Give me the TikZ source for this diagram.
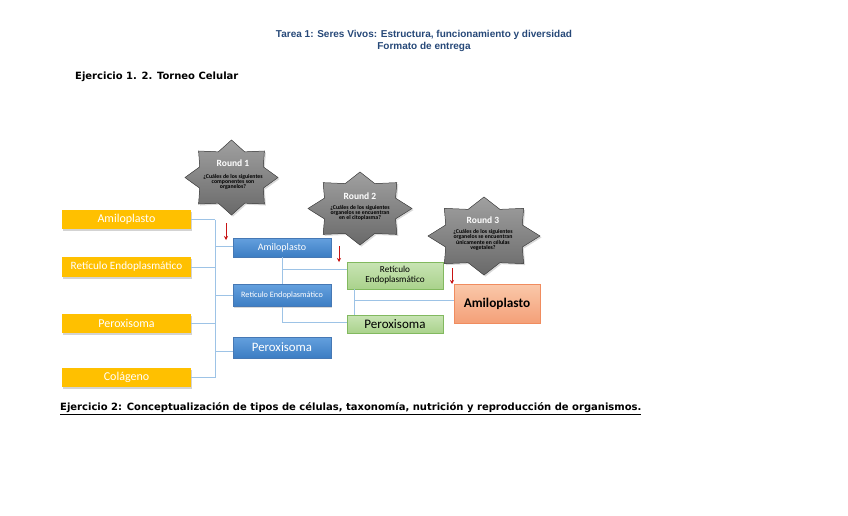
\documentclass[tikz,border=0pt]{standalone}
\usepackage{fontspec}
\setmainfont{Carlito}
\newfontfamily\dejavu{DejaVu Sans}
\newfontfamily\arialf{Liberation Sans}
\usetikzlibrary{shadows,calc,arrows.meta}
\definecolor{ttlblue}{RGB}{38,72,120}
\definecolor{yel}{RGB}{255,192,0}
\definecolor{linb}{RGB}{157,195,230}
\definecolor{bluetop}{RGB}{100,160,222}
\definecolor{bluebot}{RGB}{60,125,195}
\definecolor{blueedge}{RGB}{70,120,180}
\definecolor{grtop}{RGB}{200,228,180}
\definecolor{grbot}{RGB}{170,210,140}
\definecolor{gredge}{RGB}{130,185,95}
\definecolor{ortop}{RGB}{250,200,170}
\definecolor{orbot}{RGB}{244,160,120}
\definecolor{oredge}{RGB}{240,140,95}
\definecolor{arred}{RGB}{200,20,20}
\definecolor{sttop}{RGB}{160,160,160}
\definecolor{stbot}{RGB}{105,105,105}
\newcommand\grstar[4]{%
  \filldraw[starfill] plot[samples at={0,1,...,15}, variable=\k]
    ({#1+#3*(0.87+0.13*cos(\k*180))*cos(90+\k*22.5)},
     {#2+#4*(0.87+0.13*cos(\k*180))*sin(90+\k*22.5)}) -- cycle;}
\begin{document}
\begin{tikzpicture}[x=1pt,y=-1pt,
  ybox/.style={fill=yel, draw=none, minimum width=129pt, inner sep=0pt, text=white,
     font=\fontsize{12}{14}\selectfont,
     drop shadow={shadow xshift=1pt, shadow yshift=-1.5pt, opacity=0.35}},
  bbox/.style={top color=bluetop, bottom color=bluebot, draw=blueedge, line width=0.4pt,
     minimum width=98pt, inner sep=0pt, text=white,
     drop shadow={shadow xshift=1pt, shadow yshift=-1.2pt, opacity=0.3}},
  gbox/.style={top color=grtop, bottom color=grbot, draw=gredge, line width=0.5pt,
     minimum width=96pt, inner sep=0pt, text=black, align=center},
  obox/.style={top color=ortop, bottom color=orbot, draw=oredge, line width=0.5pt,
     minimum width=86pt, minimum height=39pt, inner sep=0pt, text=black,
     font=\fontsize{13.3}{15}\selectfont\bfseries},
  conn/.style={draw=linb, line width=0.8pt},
  redarr/.style={draw=arred, line width=0.9pt, -{Stealth[length=4pt,width=4pt]}},
  starfill/.style={top color=sttop, bottom color=stbot, draw=gray!60!black, line width=0.5pt,
     drop shadow={shadow xshift=1.5pt, shadow yshift=-1.5pt, opacity=0.3}},
  rnd/.style={text=white, font=\fontsize{9.5}{11}\selectfont\bfseries},
  qst/.style={text=black, font=\fontsize{5.8}{5.2}\selectfont\bfseries, align=center, inner sep=0pt}
]
\useasboundingbox (0,0) rectangle (848,515);

% titles
\node[text=ttlblue, font=\arialf\bfseries\fontsize{10}{11.5}\selectfont, align=center] (t1) at (424,41)
  {Tarea 1: Seres Vivos: Estructura, funcionamiento y diversidad\\Formato de entrega};
\node[anchor=west, inner sep=0pt, font=\dejavu\bfseries\fontsize{10}{12}\selectfont] (e1) at (75,77)
  {Ejercicio 1. 2. Torneo Celular};
\node[anchor=west, inner sep=0pt, font=\dejavu\bfseries\fontsize{10}{12}\selectfont] (e2) at (60,409)
  {\underline{Ejercicio 2: Conceptualización de tipos de células, taxonomía, nutrición y reproducción de organismos.}};

% stars
\grstar{231.5}{177.5}{46.5}{37.5}
\node[rnd] (r1) at (233,163) {Round 1};
\node[qst] (q1) at (233,182) {¿Cuáles de los siguientes\\componentes son\\organelos?};
\grstar{360}{208.5}{52}{36.5}
\node[rnd] (r2) at (360,196) {Round 2};
\node[qst] (q2) at (360,213) {¿Cuáles de los siguientes\\organelos se encuentran\\en el citoplasma?};
\grstar{484}{236}{56}{39}
\node[rnd] (r3) at (483,220) {Round 3};
\node[qst] (q3) at (483,240) {¿Cuáles de los siguientes\\organelos se encuentran\\únicamente en células\\vegetales?};

% yellow boxes
\node[ybox, minimum height=19pt] (y1) at (126.5,219.5) {Amiloplasto};
\node[ybox, minimum height=20pt, font=\fontsize{11.2}{13}\selectfont] (y2) at (126.5,267) {Retículo Endoplasmático};
\node[ybox, minimum height=19pt] (y3) at (126.5,323.5) {Peroxisoma};
\node[ybox, minimum height=19pt] (y4) at (126.5,377.5) {Colágeno};

% blue boxes
\node[bbox, minimum height=19pt, font=\fontsize{10}{12}\selectfont] (b1) at (282,247.5) {Amiloplasto};
\node[bbox, minimum height=22pt, font=\fontsize{8.2}{10}\selectfont] (b2) at (282,295.5) {Retículo Endoplasmático};
\node[bbox, minimum height=21pt, font=\fontsize{12.8}{14}\selectfont] (b3) at (282,347.5) {Peroxisoma};

% green boxes
\node[gbox, minimum height=27pt, font=\fontsize{9.2}{10}\selectfont] (g1) at (395,275.5) {Retículo\\Endoplasmático};
\node[gbox, minimum height=18pt, font=\fontsize{13}{14}\selectfont] (g2) at (395,324) {Peroxisoma};

% orange box
\node[obox] (o1) at (497,303.5) {Amiloplasto};

% bus coordinates
\coordinate (busA) at (215,0);
\coordinate (busC) at (354,0);

% connectors round 1
\draw[conn] (y1.east) -- (y1.east -| busA);
\draw[conn] (y2.east) -- (y2.east -| busA);
\draw[conn] (y3.east) -- (y3.east -| busA);
\draw[conn] (y4.east) -- (y4.east -| busA);
\draw[conn] (y1.east -| busA) -- (y4.east -| busA);
\draw[conn] ($(b1.west -| busA)+(0,-1.5)$) -- ($(b1.west)+(0,-1.5)$);
\draw[conn] (b2.west -| busA) -- (b2.west);
\draw[conn] ($(b3.west -| busA)+(0,3.5)$) -- ($(b3.west)+(0,3.5)$);

% connectors round 2
\draw[conn] (b1.south) -- (b2.north);
\draw[conn] (b2.south) -- ($(g2.west -| b2.south)+(0,-2)$);
\draw[conn] (b2.north |- 0,269) -- (g1.west |- 0,269);
\draw[conn] ($(b2.south |- g2.west)+(0,-2)$) -- ($(g2.west)+(0,-2)$);

% connectors round 3
\draw[conn] (g1.south -| busC) -- (g2.north -| busC);
\draw[conn] (busC |- 0,300) -- (o1.west |- 0,300);

% red arrows
\coordinate (a1s) at (226,223);
\coordinate (a1e) at (226,240);
\coordinate (a2s) at (339,246);
\coordinate (a2e) at (339,262);
\coordinate (a3s) at (452,268);
\coordinate (a3e) at (452,284);
\draw[redarr] (a1s) -- (a1e);
\draw[redarr] (a2s) -- (a2e);
\draw[redarr] (a3s) -- (a3e);
\end{tikzpicture}
\end{document}
